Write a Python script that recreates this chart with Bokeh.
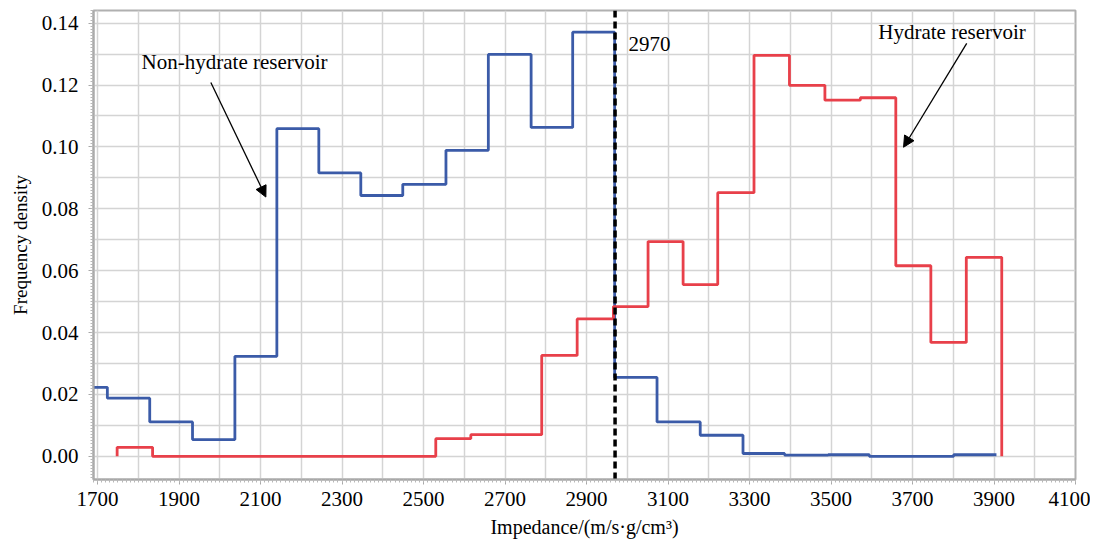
from bokeh.plotting import figure
from bokeh.models import Range1d, FixedTicker, Arrow, NormalHead, Label, CustomJSTickFormatter
from bokeh.embed import file_html
from bokeh.resources import INLINE

# ---- data ----
blue_edges = [1690, 1724, 1828, 1933, 2037, 2140, 2243, 2346, 2449, 2555, 2659, 2764,
              2866, 2969, 3073, 3179, 3284, 3386, 3493, 3594, 3697, 3801, 3906]
blue_vals = [0.0223, 0.0188, 0.0111, 0.0054, 0.0323, 0.1059, 0.0916, 0.0843, 0.0879,
             0.0989, 0.1299, 0.1063, 0.1371, 0.0255, 0.0111, 0.0068, 0.0009, 0.0004,
             0.0005, 0.0000, 0.0000, 0.0005]

red_edges = [1748, 1835, 1922, 2009, 2096, 2182, 2269, 2356, 2443, 2530, 2616, 2703, 2790,
             2877, 2966, 3051, 3137, 3222, 3311, 3398, 3485, 3572, 3659, 3745, 3832, 3919]
red_vals = [0.0029, 0.0, 0.0, 0.0, 0.0, 0.0, 0.0, 0.0, 0.0, 0.0057, 0.0070, 0.0070, 0.0326,
            0.0444, 0.0484, 0.0694, 0.0555, 0.0852, 0.1296, 0.1199, 0.1151, 0.1159, 0.0616,
            0.0368, 0.0643]

threshold = 2970
x_ticks = [1700, 1900, 2100, 2300, 2500, 2700, 2900, 3100, 3300, 3500, 3700, 3900, 4100]
y_ticks = [0.00, 0.02, 0.04, 0.06, 0.08, 0.10, 0.12, 0.14]

SERIF = "Liberation Serif"

p = figure(width=1090, height=540, output_backend="svg", toolbar_location=None,
           x_range=Range1d(1690, 4100), y_range=Range1d(-0.0075, 0.1441),
           min_border_left=93, min_border_right=15, min_border_top=10, min_border_bottom=60)
p.background_fill_color = "white"
p.border_fill_color = "white"
p.outline_line_color = "#b0b0b0"
p.outline_line_width = 2

# grids
p.xgrid.ticker = FixedTicker(ticks=list(range(1700, 4101, 100)))
p.ygrid.ticker = FixedTicker(ticks=[i * 0.01 for i in range(0, 15)])
for g in (p.xgrid, p.ygrid):
    g.grid_line_color = "#d4d4d4"
    g.grid_line_width = 1.5

# axes
p.xaxis.ticker = FixedTicker(ticks=x_ticks, minor_ticks=list(range(1690, 4101, 10)))
p.yaxis.ticker = FixedTicker(ticks=y_ticks, minor_ticks=[i * 0.001 for i in range(-7, 145)])
p.yaxis.formatter = CustomJSTickFormatter(code="return tick.toFixed(2);")
for ax in (p.xaxis, p.yaxis):
    ax.axis_line_color = "#a8a8a8"
    ax.axis_line_width = 2
    ax.major_tick_line_color = "#a8a8a8"
    ax.minor_tick_line_color = "#b8b8b8"
    ax.major_tick_in = 0
    ax.major_tick_out = 5
    ax.minor_tick_in = 0
    ax.minor_tick_out = 3
    ax.major_label_text_font = SERIF
    ax.major_label_text_font_size = "21px"
    ax.major_label_text_color = "black"
    ax.axis_label_text_font = SERIF
    ax.axis_label_text_font_style = "normal"
    ax.axis_label_text_color = "black"
p.xaxis.axis_label = "Impedance/(m/s·g/cm³)"
p.yaxis.axis_label = "Frequency density"
p.xaxis.axis_label_text_font_size = "20px"
p.yaxis.axis_label_text_font_size = "19px"
p.xaxis.major_label_standoff = 7
p.xaxis.axis_label_standoff = 7
p.yaxis.major_label_standoff = 10
p.yaxis.axis_label_standoff = 8

# step series
p.step(x=blue_edges, y=blue_vals + [blue_vals[-1]], mode="after",
       line_color="#3b5ba8", line_width=2.8)
rx = [red_edges[0]] + red_edges
ry = [0.0] + red_vals + [0.0]
p.step(x=rx, y=ry, mode="after", line_color="#e8404a", line_width=2.8)

# threshold line
p.line(x=[threshold, threshold], y=[-0.0075, 0.1441], line_color="black",
       line_width=3.5, line_dash="7 4")
p.add_layout(Label(x=threshold + 33, y=0.1334, text="2970", text_font=SERIF,
                   text_font_size="21px", text_color="black", text_baseline="middle"))

# annotations
p.add_layout(Label(x=1808, y=0.1273, text="Non-hydrate reservoir", text_font=SERIF,
                   text_font_size="21px", text_color="black", text_baseline="middle"))
p.add_layout(Arrow(x_start=1978, y_start=0.1208, x_end=2113, y_end=0.0838,
                   line_color="black", line_width=1.3,
                   end=NormalHead(size=11, fill_color="black", line_color="black")))
p.add_layout(Label(x=3616, y=0.137, text="Hydrate reservoir", text_font=SERIF,
                   text_font_size="21px", text_color="black", text_baseline="middle"))
p.add_layout(Arrow(x_start=3833, y_start=0.1335, x_end=3678, y_end=0.0999,
                   line_color="black", line_width=1.3,
                   end=NormalHead(size=11, fill_color="black", line_color="black")))

open("out.html", "w").write(file_html(p, INLINE))
